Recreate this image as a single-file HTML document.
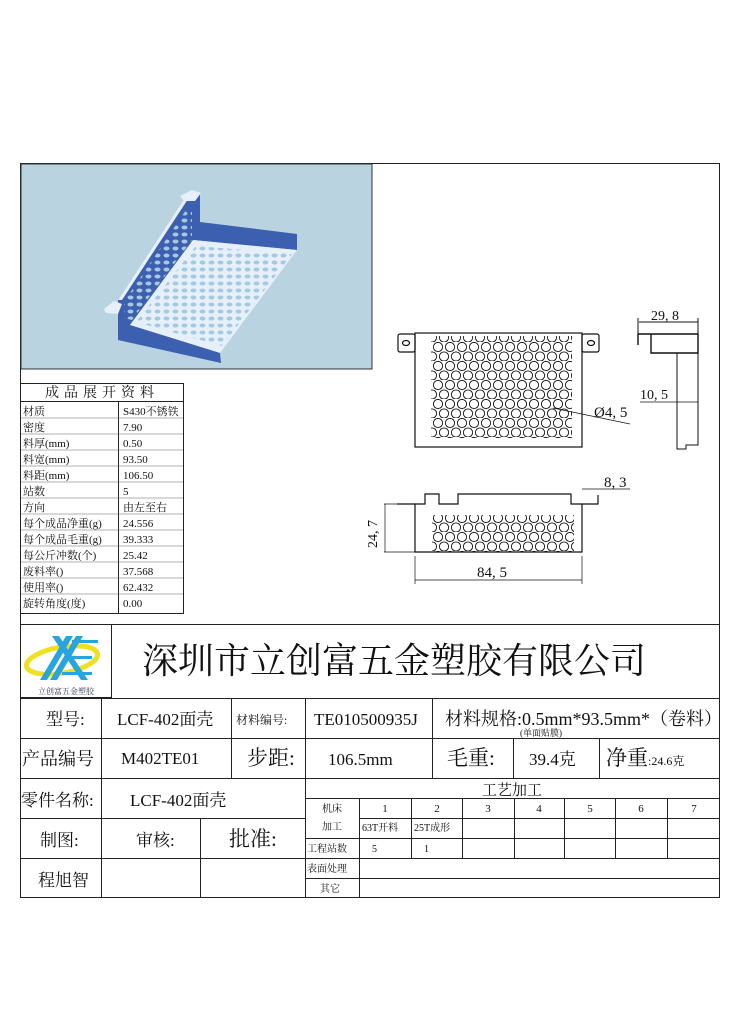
<!DOCTYPE html>
<html><head><meta charset="utf-8"><style>
body{margin:0;background:#fff;}
svg text{font-family:"Liberation Serif","Noto Serif CJK SC",serif;fill:#111;}
</style></head><body>
<svg width="732" height="1024" viewBox="0 0 732 1024" xmlns="http://www.w3.org/2000/svg">
<defs>
<pattern id="holes" x="0" y="0" width="12" height="19" patternUnits="userSpaceOnUse">
<circle cx="6" cy="5" r="4.6" fill="none" stroke="#111" stroke-width="0.9"/>
<circle cx="12" cy="14.5" r="4.6" fill="none" stroke="#111" stroke-width="0.9"/>
<circle cx="0" cy="14.5" r="4.6" fill="none" stroke="#111" stroke-width="0.9"/>
</pattern>
<pattern id="h3" x="0" y="0" width="9" height="7" patternUnits="userSpaceOnUse">
<ellipse cx="4.5" cy="3.5" rx="3" ry="2" fill="#a6c8e0"/>
</pattern>
<clipPath id="floor"><polygon points="136,322 196,246 292,254 222,346"/></clipPath>
<clipPath id="wall"><polygon points="124,318 124,302 186,210 192,208 192,240 132,320"/></clipPath>
</defs>
<rect x="20.5" y="163.5" width="699" height="734" fill="none" stroke="#222" stroke-width="1"/>
<!-- 3D image -->
<rect x="21" y="164" width="351" height="205" fill="#b9d3e0" stroke="#333"/>
<g>
<polygon points="118,340 118,300 186,196 200,193 200,240 193,240 130,325" fill="#3d5fb0"/>
<polygon points="193,240 200,222 297,234 297,250" fill="#3d5fb0"/>
<polygon points="130,325 193,240 297,250 220,353" fill="#e6f0fa"/>
<rect x="120" y="230" width="180" height="130" fill="url(#h3)" clip-path="url(#floor)" transform=""/>
<rect x="110" y="200" width="90" height="130" fill="url(#h3)" clip-path="url(#wall)"/>
<polygon points="118,330 130,325 220,353 221,363 118,340" fill="#3d5fb0"/>
<polygon points="118,300 186,196 190,196 122,300" fill="#e6f0fa"/>
<polygon points="180,196 192,190 201,193 195,201 184,201" fill="#e6f0fa"/>
<polygon points="104,309 114,301 122,304 118,314 106,313" fill="#e6f0fa"/>
</g>
<!-- data table -->
<g font-size="11">
<rect x="20.5" y="383.5" width="163" height="230" fill="none" stroke="#222"/>
<line x1="20" y1="401.5" x2="184" y2="401.5" stroke="#222"/>
<line x1="118.5" y1="401" x2="118.5" y2="614" stroke="#222"/>
<text x="102" y="397" font-size="14" text-anchor="middle" letter-spacing="5">成品展开资料</text>
<g stroke="#666" stroke-width="0.6">
<line x1="21" y1="418" x2="183" y2="418"/><line x1="21" y1="434" x2="183" y2="434"/>
<line x1="21" y1="450" x2="183" y2="450"/><line x1="21" y1="466" x2="183" y2="466"/>
<line x1="21" y1="482" x2="183" y2="482"/><line x1="21" y1="498" x2="183" y2="498"/>
<line x1="21" y1="514" x2="183" y2="514"/><line x1="21" y1="530" x2="183" y2="530"/>
<line x1="21" y1="546" x2="183" y2="546"/><line x1="21" y1="562" x2="183" y2="562"/>
<line x1="21" y1="578" x2="183" y2="578"/><line x1="21" y1="594" x2="183" y2="594"/>
</g>
<text x="23" y="415">材质</text><text x="123" y="415">S430不锈铁</text>
<text x="23" y="431">密度</text><text x="123" y="431">7.90</text>
<text x="23" y="447">料厚(mm)</text><text x="123" y="447">0.50</text>
<text x="23" y="463">料宽(mm)</text><text x="123" y="463">93.50</text>
<text x="23" y="479">料距(mm)</text><text x="123" y="479">106.50</text>
<text x="23" y="495">站数</text><text x="123" y="495">5</text>
<text x="23" y="511">方向</text><text x="123" y="511">由左至右</text>
<text x="23" y="527">每个成品净重(g)</text><text x="123" y="527">24.556</text>
<text x="23" y="543">每个成品毛重(g)</text><text x="123" y="543">39.333</text>
<text x="23" y="559">每公斤冲数(个)</text><text x="123" y="559">25.42</text>
<text x="23" y="575">废料率()</text><text x="123" y="575">37.568</text>
<text x="23" y="591">使用率()</text><text x="123" y="591">62.432</text>
<text x="23" y="607">旋转角度(度)</text><text x="123" y="607">0.00</text>
</g>
<!-- front view -->
<g stroke="#111" fill="none" stroke-width="1.2">
<rect x="431" y="336" width="141" height="102" fill="url(#holes)" stroke="none"/>
<rect x="415" y="333" width="167" height="114"/>
<rect x="398" y="334" width="17" height="18" rx="2"/>
<rect x="582" y="334" width="17" height="18" rx="2"/>
<ellipse cx="406" cy="343" rx="3.5" ry="2.5"/><ellipse cx="591" cy="343" rx="3.5" ry="2.5"/>
<line x1="553" y1="408" x2="630" y2="424" stroke-width="0.8"/>
</g>
<text x="594" y="417" font-size="15">Ø4, 5</text>
<!-- side view -->
<g stroke="#111" fill="none" stroke-width="1">
<line x1="639" y1="322" x2="698" y2="322"/><line x1="638" y1="318" x2="638" y2="345"/><line x1="698" y1="318" x2="698" y2="350"/>
<polyline points="638,345 638,334 698,334 698,353 651,353 651,334" stroke-width="1.4"/>
<polyline points="677,353 677,449 686,449 686,445 698,445 698,353"/>
<line x1="640" y1="402" x2="698" y2="402" stroke-width="0.8"/>
</g>
<text x="651" y="320" font-size="14">29, 8</text>
<text x="640" y="399" font-size="14">10, 5</text>
<!-- bottom view -->
<g stroke="#111" fill="none" stroke-width="1.2">
<rect x="432" y="515" width="142" height="37" fill="url(#holes)" stroke="none"/>
<polyline points="397,504 415,504 415,552 582,552 582,504 598,504 598,495"/>
<polyline points="415,504 425,504 425,494 439,494 439,504 458,504 458,494 571,494 571,504 582,504"/>
<line x1="384" y1="504" x2="415" y2="504" stroke-width="0.7"/>
<line x1="384" y1="552" x2="415" y2="552" stroke-width="0.7"/>
<line x1="385" y1="504" x2="385" y2="552" stroke-width="0.7"/>
<line x1="415" y1="556" x2="415" y2="584" stroke-width="0.7"/>
<line x1="582" y1="556" x2="582" y2="584" stroke-width="0.7"/>
<line x1="415" y1="580" x2="582" y2="580" stroke-width="0.7"/>
<line x1="582" y1="489" x2="630" y2="489" stroke-width="0.7"/>
</g>
<text x="477" y="577" font-size="15">84, 5</text>
<text x="604" y="487" font-size="15">8, 3</text>
<text transform="translate(377,548) rotate(-90)" font-size="14">24, 7</text>
<!-- company row -->
<line x1="20" y1="624.5" x2="720" y2="624.5" stroke="#222"/>
<rect x="20.5" y="624.5" width="91" height="73" fill="none" stroke="#222"/>
<g>
<ellipse cx="62" cy="660" rx="36" ry="13" fill="none" stroke="#f0e020" stroke-width="5" transform="rotate(-10 62 660)"/>
<polygon points="40,680 66,636 73,636 47,680" fill="#2aa4dd"/>
<polygon points="50,680 76,636 83,636 57,680" fill="#2aa4dd"/>
<polygon points="52,636 59,636 88,680 81,680" fill="#2aa4dd"/>
<rect x="72" y="640" width="26" height="3" fill="#2aa4dd"/>
<rect x="68" y="656" width="24" height="3" fill="#2aa4dd"/>
<rect x="62" y="672" width="30" height="3" fill="#2aa4dd"/>
<text x="66" y="694" font-size="8" text-anchor="middle" style="fill:#335">立创富五金塑胶</text>
</g>
<text x="394" y="673" font-size="36" text-anchor="middle" style="font-family:'Noto Serif CJK SC',serif">深圳市立创富五金塑胶有限公司</text>
<!-- bottom table -->
<g stroke="#222" stroke-width="1" fill="none">
<line x1="20" y1="698.5" x2="720" y2="698.5"/>
<line x1="20" y1="738.5" x2="720" y2="738.5"/>
<line x1="20" y1="778.5" x2="720" y2="778.5"/>
<line x1="20" y1="818.5" x2="305" y2="818.5"/>
<line x1="20" y1="858.5" x2="305" y2="858.5"/>
<line x1="305" y1="798.5" x2="720" y2="798.5"/>
<line x1="359" y1="818.5" x2="720" y2="818.5"/>
<line x1="305" y1="838.5" x2="720" y2="838.5"/>
<line x1="305" y1="858.5" x2="720" y2="858.5"/>
<line x1="305" y1="878.5" x2="720" y2="878.5"/>
<line x1="101.5" y1="698" x2="101.5" y2="898"/>
<line x1="231.5" y1="698" x2="231.5" y2="778"/>
<line x1="305.5" y1="698" x2="305.5" y2="898"/>
<line x1="432.5" y1="698" x2="432.5" y2="778"/>
<line x1="513.5" y1="738" x2="513.5" y2="778"/>
<line x1="599.5" y1="738" x2="599.5" y2="778"/>
<line x1="200.5" y1="818" x2="200.5" y2="898"/>
<line x1="359.5" y1="798" x2="359.5" y2="898"/>
<line x1="411.5" y1="798" x2="411.5" y2="858"/>
<line x1="462.5" y1="798" x2="462.5" y2="858"/>
<line x1="514.5" y1="798" x2="514.5" y2="858"/>
<line x1="564.5" y1="798" x2="564.5" y2="858"/>
<line x1="615.5" y1="798" x2="615.5" y2="858"/>
<line x1="667.5" y1="798" x2="667.5" y2="858"/>
</g>
<g font-size="17">
<text x="46" y="725">型号:</text>
<text x="117" y="725">LCF-402面壳</text>
<text x="236" y="724" font-size="12">材料编号:</text>
<text x="314" y="725">TE010500935J</text>
<text x="445" y="725" font-size="18">材料规格:0.5mm*93.5mm*（卷料）</text>
<text x="520" y="736" font-size="9">(单面贴膜)</text>
<text x="22" y="765" font-size="18">产品编号</text>
<text x="121" y="764">M402TE01</text>
<text x="247" y="765" font-size="21">步距:</text>
<text x="328" y="765">106.5mm</text>
<text x="447" y="765" font-size="21">毛重:</text>
<text x="529" y="765">39.4克</text>
<text x="606" y="765" font-size="21">净重<tspan font-size="12">:24.6克</tspan></text>
<text x="21" y="806">零件名称:</text>
<text x="130" y="806">LCF-402面壳</text>
<text x="512" y="795" font-size="15" text-anchor="middle">工艺加工</text>
<text x="40" y="846">制图:</text>
<text x="136" y="846">审核:</text>
<text x="229" y="846" font-size="21">批准:</text>
<text x="38" y="886">程旭智</text>
</g>
<g font-size="10">
<text x="332" y="812" text-anchor="middle">机床</text>
<text x="332" y="830" text-anchor="middle">加工</text>
<text x="385" y="812" text-anchor="middle" font-size="11">1</text>
<text x="437" y="812" text-anchor="middle" font-size="11">2</text>
<text x="488" y="812" text-anchor="middle" font-size="11">3</text>
<text x="539" y="812" text-anchor="middle" font-size="11">4</text>
<text x="590" y="812" text-anchor="middle" font-size="11">5</text>
<text x="641" y="812" text-anchor="middle" font-size="11">6</text>
<text x="694" y="812" text-anchor="middle" font-size="11">7</text>
<text x="362" y="831">63T开料</text>
<text x="414" y="831">25T成形</text>
<text x="307" y="852">工程站数</text>
<text x="372" y="852">5</text>
<text x="424" y="852">1</text>
<text x="307" y="872">表面处理</text>
<text x="320" y="892">其它</text>
</g>
</svg>
</body></html>
